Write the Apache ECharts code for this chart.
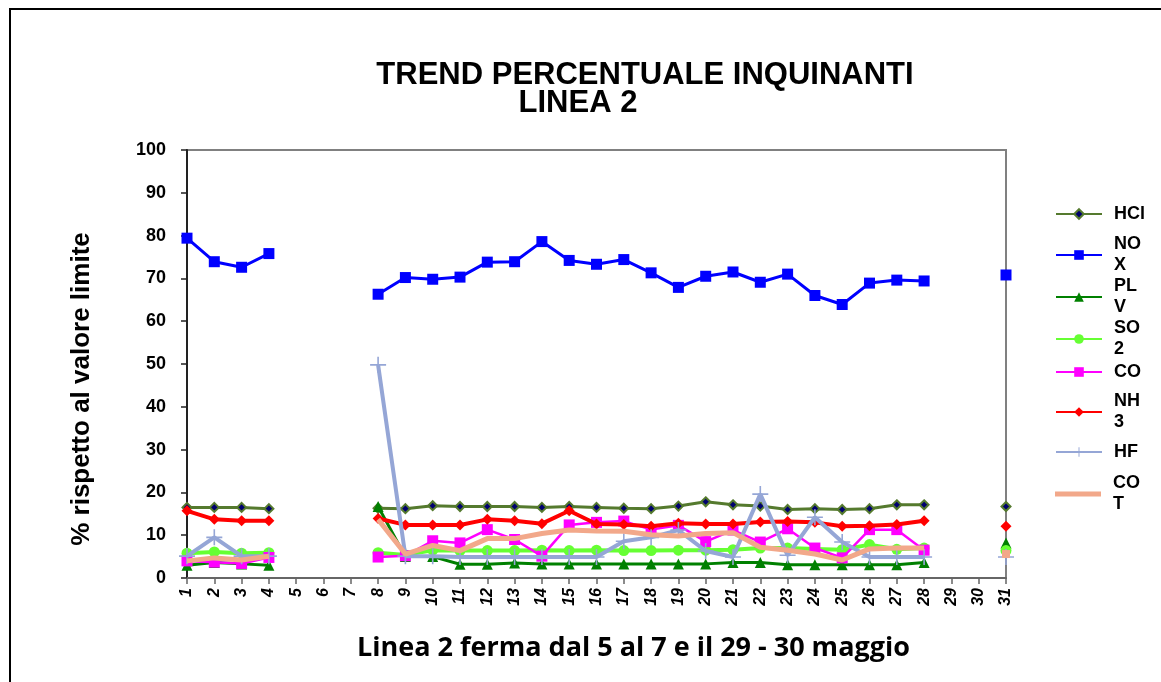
<!DOCTYPE html>
<html>
<head>
<meta charset="utf-8">
<script src="https://cdn.jsdelivr.net/npm/echarts@6/dist/echarts.min.js"></script>
<style>
  html, body { margin: 0; padding: 0; background: #fff; }
  #chart { width: 1161px; height: 682px; }
</style>
</head>
<body>
<div id="chart"></div>
<script>
(function () {
    var n = null;
    var days = [];
    for (var d = 1; d <= 31; d++) days.push(String(d));

    var hcl = [16.5, 16.5, 16.5, 16.2, n, n, n, 16.3, 16.2, 16.9, 16.7, 16.7, 16.7, 16.5, 16.7, 16.5, 16.3, 16.2, 16.8, 17.8, 17.1, 16.8, 16.0, 16.2, 16.0, 16.2, 17.1, 17.1, n, n, 16.7];
    var nox = [79.4, 73.9, 72.6, 75.8, n, n, n, 66.3, 70.2, 69.8, 70.3, 73.8, 73.9, 78.6, 74.2, 73.3, 74.4, 71.3, 67.9, 70.5, 71.5, 69.1, 71.0, 66.0, 63.9, 68.9, 69.6, 69.4, n, n, 70.8];
    var plv = [3.0, 3.6, 3.3, 3.0, n, n, n, 16.7, 5.0, 5.0, 3.2, 3.2, 3.5, 3.3, 3.3, 3.3, 3.3, 3.3, 3.3, 3.3, 3.6, 3.6, 3.1, 3.1, 3.1, 3.1, 3.1, 3.6, n, n, 8.2];
    var so2 = [5.8, 6.1, 5.8, 5.9, n, n, n, 5.9, 5.4, 6.5, 6.4, 6.4, 6.4, 6.5, 6.4, 6.5, 6.4, 6.4, 6.5, 6.5, 6.6, 7.0, 7.0, 6.8, 6.6, 7.8, 6.7, 7.0, n, n, 6.4];
    var co = [4.0, 3.7, 3.4, 4.8, n, n, n, 4.9, 5.2, 8.7, 8.2, 11.3, 9.0, 5.1, 12.4, 13.0, 13.3, 11.3, 12.3, 8.5, 11.2, 8.4, 11.5, 7.0, 4.7, 11.3, 11.3, 6.5, n, n, n];
    var nh3 = [15.7, 13.7, 13.4, 13.4, n, n, n, 13.9, 12.4, 12.4, 12.4, 13.7, 13.4, 12.7, 15.7, 12.6, 12.5, 12.1, 12.8, 12.6, 12.6, 13.1, 13.2, 13.0, 12.1, 12.2, 12.5, 13.4, n, n, 12.1];
    var hf = [5.1, 9.5, 5.1, 5.1, n, n, n, 49.8, 5.1, 5.1, 4.9, 4.9, 4.9, 4.9, 4.9, 4.9, 8.6, 9.5, 11.2, 6.3, 4.9, 19.6, 5.3, 14.2, 8.4, 4.9, 4.9, 4.9, n, n, 4.9];
    var cot = [4.0, 4.7, 4.2, 5.1, n, n, n, 13.7, 5.6, 7.6, 6.4, 9.2, 9.2, 10.4, 11.2, 11.0, 10.9, 10.1, 9.8, 10.4, 10.6, 7.2, 6.5, 5.6, 4.2, 6.8, 7.0, 7.0, n, n, 5.6];

    var names = ['HCl', 'NOX', 'PLV', 'SO2', 'CO', 'NH3', 'HF', 'COT'];
    // legend labels wrap like the original: first two letters, then the rest
    var wrapped = ['NOX', 'PLV', 'SO2', 'NH3', 'COT'];

    var plus = 'path://M9,0H11V9H20V11H11V20H9V11H0V9H9Z';

    var styles = [
        { color: '#557a2e', width: 3, symbol: 'diamond', size: 9, fill: '#00006e' },
        { color: '#0000ff', width: 3, symbol: 'rect', size: 11 },
        { color: '#008000', width: 3, symbol: 'triangle', size: 11 },
        { color: '#66ff33', width: 4, symbol: 'circle', size: 11 },
        { color: '#ff00ff', width: 2.5, symbol: 'rect', size: 11 },
        { color: '#ff0000', width: 4, symbol: 'diamond', size: 11 },
        { color: '#95a6d6', width: 4, symbol: plus, size: 16 },
        { color: '#f2a88a', width: 5, symbol: 'none', size: 0 }
    ];
    var values = [hcl, nox, plv, so2, co, nh3, hf, cot];

    // first-line centres of the legend entries
    var legendY = [214, 255, 297, 339, 372, 412, 452, 494];
    var LH = 21;

    function isolated(arr, i) {
        return arr[i] != null && (i === 0 || arr[i - 1] == null) && (i === arr.length - 1 || arr[i + 1] == null);
    }

    var series = names.map(function (name, k) {
        var s = styles[k];
        var arr = values[k];
        return {
            name: name,
            type: 'line',
            data: arr.map(function (v, i) {
                if (s.symbol === 'none' && isolated(arr, i)) {
                    return { value: v, symbol: 'rect', symbolSize: 8 };
                }
                return v;
            }),
            symbol: s.symbol,
            symbolSize: s.size,
            showAllSymbol: true,
            connectNulls: false,
            animation: false,
            lineStyle: { color: s.color, width: s.width },
            itemStyle: {
                color: s.fill || s.color,
                borderColor: s.color,
                borderWidth: s.fill ? 2 : 0
            },
            z: 2 + k
        };
    });

    var legends = names.map(function (name, k) {
        var twoLine = wrapped.indexOf(name) >= 0;
        var noMarker = styles[k].symbol === 'none';
        var lg = {
            data: [name],
            orient: 'vertical',
            left: 1055,
            top: twoLine ? legendY[k] - LH * 1.5 : legendY[k] - LH / 2,
            itemWidth: 46,
            itemHeight: 12,
            padding: 0,
            selectedMode: false,
            formatter: function (nm) {
                return wrapped.indexOf(nm) >= 0 ? nm.slice(0, 2) + '\n' + nm.slice(2) : nm;
            },
            textStyle: {
                fontFamily: 'Liberation Sans, Arial',
                fontWeight: 'bold',
                fontSize: 18,
                color: '#000',
                lineHeight: LH,
                padding: twoLine ? [LH, 0, 0, 7] : [0, 0, 0, 7]
            }
        };
        if (noMarker) {
            lg.icon = 'rect';
            lg.itemHeight = 5;
        }
        return lg;
    });

    var chart = echarts.init(document.getElementById('chart'));
    chart.setOption({
        backgroundColor: '#fff',
        animation: false,
        title: [{
            text: 'TREND PERCENTUALE INQUINANTI',
            left: 640,
            top: 55,
            textAlign: 'center',
            textStyle: { fontFamily: 'Liberation Sans, Arial', fontWeight: 'bold', fontSize: 31, color: '#000' }
        }, {
            text: 'LINEA 2',
            left: 573,
            top: 83,
            textAlign: 'center',
            textStyle: { fontFamily: 'Liberation Sans, Arial', fontWeight: 'bold', fontSize: 31, color: '#000' }
        }],
        graphic: [{
            type: 'rect',
            shape: { x: 10, y: 9, width: 1170, height: 700 },
            style: { fill: 'none', stroke: '#000', lineWidth: 2 },
            silent: true
        }],
        legend: legends,
        grid: {
            left: 187,
            right: 155,
            top: 150,
            bottom: 104,
            show: true,
            borderColor: '#808080',
            borderWidth: 2,
            backgroundColor: 'transparent'
        },
        xAxis: {
            type: 'category',
            data: days,
            boundaryGap: false,
            name: 'Linea 2 ferma dal 5 al 7 e il 29 - 30 maggio',
            nameLocation: 'middle',
            nameGap: 57,
            nameTextStyle: {
                fontFamily: 'Open Sans, Liberation Sans', fontWeight: 'bold', fontSize: 27, color: '#000',
                padding: [0, 0, 0, 74]
            },
            axisLine: { lineStyle: { color: '#666', width: 2 } },
            axisTick: { show: true, interval: 0, length: 6, lineStyle: { color: '#666', width: 1.5 } },
            axisLabel: {
                interval: 0,
                rotate: 90,
                margin: 10,
                fontFamily: 'Liberation Sans, Arial',
                fontWeight: 'bold',
                fontStyle: 'italic',
                fontSize: 16,
                color: '#000'
            },
            splitLine: { show: false }
        },
        yAxis: {
            type: 'value',
            min: 0,
            max: 100,
            interval: 10,
            name: '% rispetto al valore limite',
            nameLocation: 'middle',
            nameGap: 92,
            nameRotate: 90,
            nameTextStyle: {
                fontFamily: 'Liberation Sans, Arial', fontWeight: 'bold', fontSize: 26, color: '#000',
                padding: [0, 50, 0, 0]
            },
            axisLine: { show: true, lineStyle: { color: '#222', width: 2 } },
            axisTick: { show: true, length: 6, lineStyle: { color: '#222', width: 1.5 } },
            axisLabel: {
                margin: 21,
                fontFamily: 'Liberation Sans, Arial',
                fontWeight: 'bold',
                fontSize: 18,
                color: '#000'
            },
            splitLine: { show: false }
        },
        series: series
    });
})();
</script>
</body>
</html>
